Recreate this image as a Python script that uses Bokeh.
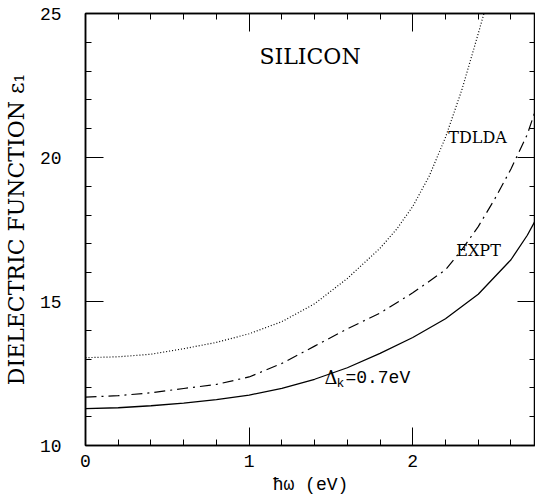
from bokeh.plotting import figure
from bokeh.models import Range1d, LinearAxis, SingleIntervalTicker, Label
from bokeh.embed import file_html
from bokeh.resources import INLINE

# --- data ---
x_delta = [0, 0.2, 0.4, 0.6, 0.8, 1.0, 1.2, 1.4, 1.6, 1.8, 2.0, 2.2, 2.4, 2.6, 2.7, 2.8]
eps_delta = [11.28, 11.31, 11.38, 11.47, 11.59, 11.75, 11.98, 12.3, 12.7, 13.2, 13.75, 14.4, 15.25, 16.45, 17.3, 18.35]

x_expt = [0, 0.2, 0.4, 0.6, 0.8, 1.0, 1.2, 1.4, 1.6, 1.8, 2.0, 2.2, 2.3, 2.4, 2.5, 2.6, 2.7, 2.8]
eps_expt = [11.68, 11.73, 11.83, 11.98, 12.12, 12.38, 12.85, 13.45, 14.05, 14.6, 15.3, 16.1, 16.8, 17.6, 18.55, 19.6, 20.8, 22.5]

x_tdlda = [0, 0.2, 0.4, 0.6, 0.8, 1.0, 1.2, 1.4, 1.6, 1.8, 1.9, 2.0, 2.1, 2.2, 2.3, 2.4, 2.46]
eps_tdlda = [13.05, 13.08, 13.17, 13.36, 13.58, 13.88, 14.3, 14.92, 15.8, 16.85, 17.5, 18.3, 19.35, 20.7, 22.35, 24.3, 25.5]

x_limits = (0, 2.75)
y_limits = (10, 25)

p = figure(width=535, height=497, output_backend="svg", toolbar_location=None,
           x_range=Range1d(*x_limits), y_range=Range1d(*y_limits),
           min_border_left=80, min_border_right=0, min_border_top=13, min_border_bottom=51)
p.background_fill_color = "white"
p.border_fill_color = "white"
p.outline_line_color = "black"
p.outline_line_width = 1.5
p.grid.visible = False

xt = SingleIntervalTicker(interval=1, num_minor_ticks=5)
yt = SingleIntervalTicker(interval=5, num_minor_ticks=5)

for ax in [p.xaxis[0], p.yaxis[0]]:
    ax.axis_line_width = 1.5
    ax.axis_line_color = "black"
    ax.major_tick_in = 18
    ax.major_tick_out = 0
    ax.minor_tick_in = 6
    ax.minor_tick_out = 0
    ax.major_tick_line_color = "black"
    ax.minor_tick_line_color = "black"
    ax.major_label_text_font = "Liberation Mono"
    ax.major_label_text_font_size = "18px"
    ax.major_label_text_color = "black"
    ax.axis_label_text_color = "black"
    ax.axis_label_text_font_style = "normal"

p.xaxis[0].ticker = xt
p.yaxis[0].ticker = yt
p.xaxis[0].major_label_standoff = 9
p.yaxis[0].major_label_standoff = 24
p.xaxis[0].axis_label = "ħω (eV)"
p.xaxis[0].axis_label_text_font = "Liberation Mono"
p.xaxis[0].axis_label_text_font_size = "18px"
p.xaxis[0].axis_label_standoff = 5
p.yaxis[0].axis_label = "DIELECTRIC FUNCTION ε₁"
p.yaxis[0].axis_label_text_font = "DejaVu Serif"
p.yaxis[0].axis_label_text_font_size = "22px"
p.yaxis[0].axis_label_standoff = 8

for loc, tick in [("above", xt), ("right", yt)]:
    ax = LinearAxis(ticker=tick)
    ax.major_label_text_font_size = "0px"
    ax.major_label_standoff = 0
    ax.axis_label_standoff = 0
    ax.major_tick_in = 18
    ax.major_tick_out = 0
    ax.minor_tick_in = 6
    ax.minor_tick_out = 0
    ax.axis_line_width = 1.5
    ax.major_tick_line_color = "black"
    ax.minor_tick_line_color = "black"
    p.add_layout(ax, loc)

p.line(x_tdlda, eps_tdlda, line_color="black", line_width=1.2, line_dash="1 2")
p.line(x_expt, eps_expt, line_color="black", line_width=1.2, line_dash="11 5 2 5")
p.line(x_delta, eps_delta, line_color="black", line_width=1.3)

def lab(x, y, t, font, size, xo=0, yo=0):
    p.add_layout(Label(x=x, y=y, text=t, text_font=font, text_font_size=size,
                       text_color="black", text_baseline="alphabetic",
                       x_offset=xo, y_offset=yo))

lab(1.063, 23.52, "SILICON", "DejaVu Serif", "22px")
lab(2.217, 20.70, "TDLDA", "DejaVu Serif", "16px")
lab(2.266, 16.76, "EXPT", "DejaVu Serif", "16px")
lab(1.46, 12.36, "Δ", "DejaVu Serif", "18px")
lab(1.46, 12.36, "k", "Liberation Mono", "13px", xo=12, yo=-6)
lab(1.46, 12.36, "=0.7eV", "Liberation Mono", "18px", xo=21)

open("out.html", "w").write(file_html(p, INLINE))
